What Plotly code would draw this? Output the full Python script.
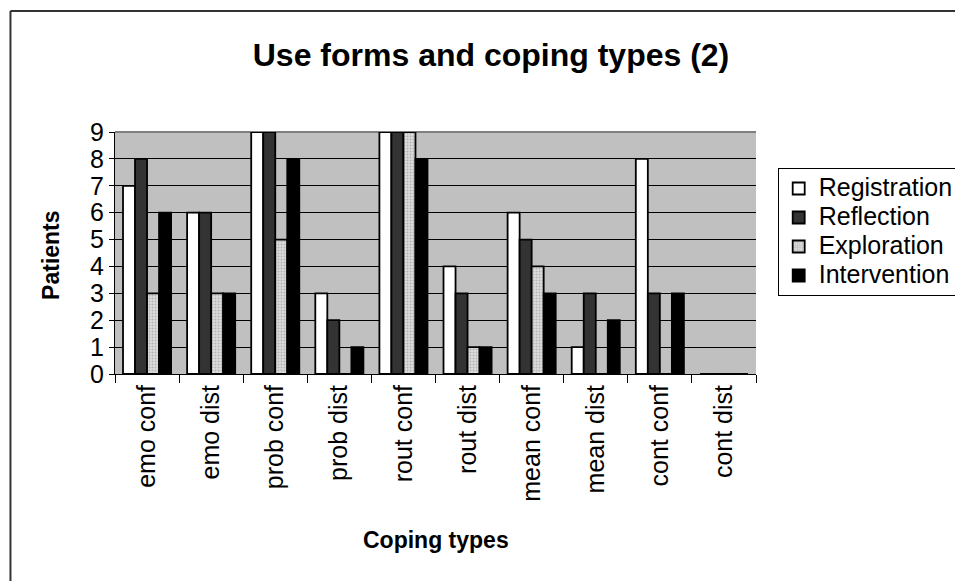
import plotly.graph_objects as go

categories = ["emo conf", "emo dist", "prob conf", "prob dist", "rout conf",
              "rout dist", "mean conf", "mean dist", "cont conf", "cont dist"]
registration = [7, 6, 9, 3, 9, 4, 6, 1, 8, 0]
reflection = [8, 6, 9, 2, 9, 3, 5, 3, 3, 0]
exploration = [3, 3, 5, 0, 9, 1, 4, 0, 0, 0]
intervention = [6, 3, 8, 1, 8, 1, 3, 2, 3, 0]
series_names = ["Registration", "Reflection", "Exploration", "Intervention"]
y_ticks = list(range(0, 10))

W, H = 963, 581
OFF = 8  # page body margin
# plot area in screen pixels
L, R, T, B = 115, 765, 132, 374

def px(x):
    return (x - L) / (R - L)

def py(y):
    return (B - y) / (B - T)

font = "Arial, Liberation Sans, sans-serif"
line = dict(color="black", width=1.8)

def lname(s):
    return '<span style="font-size:25px">' + s + "</span>"

fig = go.Figure()
fig.add_bar(name=lname(series_names[0]), x=categories, y=registration,
            marker=dict(color="white", line=line))
fig.add_bar(name=lname(series_names[1]), x=categories, y=reflection,
            marker=dict(color="#333333", line=line))
fig.add_bar(name=lname(series_names[2]), x=categories, y=exploration,
            marker=dict(color="#d8d8d8", line=line,
                        pattern=dict(shape=".", fgcolor="#8a8a8a", bgcolor="#dcdcdc",
                                     size=3, solidity=0.35)))
fig.add_bar(name=lname(series_names[3]), x=categories, y=intervention,
            marker=dict(color="black", line=line))

fig.update_layout(
    width=W, height=H,
    margin=dict(l=L - OFF, r=W - (R - OFF), t=T - OFF, b=H - (B - OFF), pad=0),
    paper_bgcolor="white", plot_bgcolor="#c0c0c0",
    barmode="group", bargap=0.25, bargroupgap=0,
    font=dict(family=font, size=25, color="black"),
    title=dict(text="<b>Use forms and coping types (2)</b>", xref="container",
               x=(491 - OFF) / W, xanchor="center", yref="container",
               y=1 - (55 - OFF) / H, yanchor="middle",
               font=dict(size=32, family=font)),
    showlegend=True,
    legend=dict(x=px(787), y=py(168), xanchor="left", yanchor="top",
                bordercolor="black", borderwidth=1, bgcolor="white",
                font=dict(size=20, family=font), itemwidth=30),
    xaxis=dict(type="category", tickangle=-90, tickson="boundaries",
               ticks="outside", ticklen=8, tickcolor="black",
               showline=True, linecolor="black", linewidth=1,
               showgrid=False, tickfont=dict(size=25)),
    yaxis=dict(range=[0, 9], tickvals=y_ticks, ticks="outside", ticklen=5,
               tickcolor="black", showline=True, linecolor="black", linewidth=1,
               showgrid=True, gridcolor="black", gridwidth=1, zeroline=False,
               tickfont=dict(size=25)),
    annotations=[
        dict(text="<b>Coping types</b>", xref="paper", yref="paper",
             x=px(440), y=py(540), xanchor="center", yanchor="middle",
             showarrow=False, font=dict(size=23, family=font)),
        dict(text="<b>Patients</b>", xref="paper", yref="paper",
             x=px(50), y=py(255), xanchor="center", yanchor="middle",
             textangle=-90, showarrow=False, font=dict(size=23, family=font)),
    ],
    shapes=[
        dict(type="line", xref="paper", yref="paper", x0=0, x1=1,
             y0=1, y1=1, layer="below", line=dict(color="#808080", width=2)),
        dict(type="line", xref="paper", yref="paper", x0=px(9), x1=px(9),
             y0=py(11), y1=py(620), line=dict(color="#333333", width=2)),
        dict(type="line", xref="paper", yref="paper", x0=px(9), x1=px(1000),
             y0=py(11), y1=py(11), line=dict(color="#333333", width=2)),
    ],
)

fig.write_html("out.html")
